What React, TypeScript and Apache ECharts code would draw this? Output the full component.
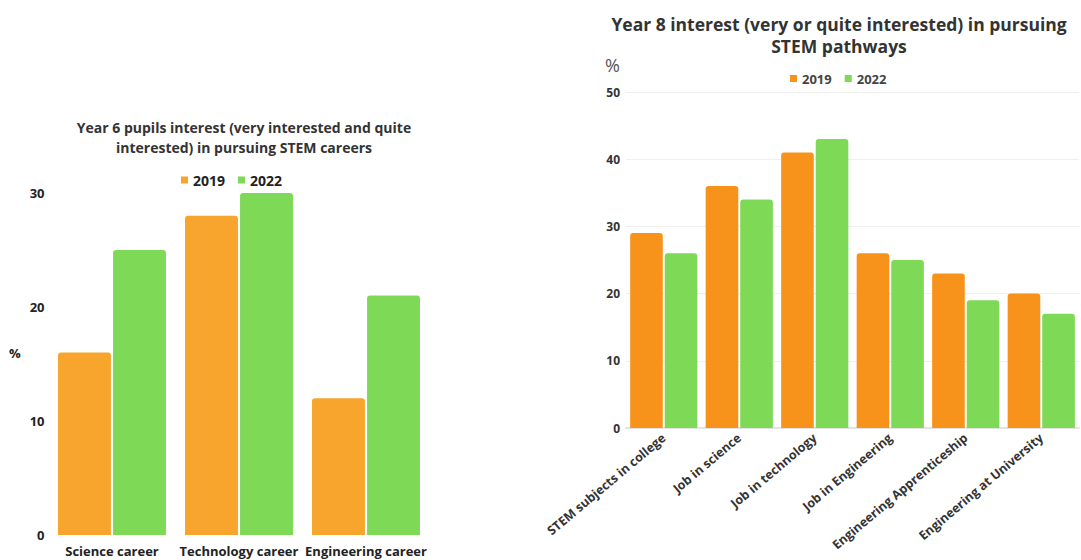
import React, { useEffect, useRef } from "react";
import * as echarts from "echarts";

const leftCategories = ["Science career", "Technology career", "Engineering career"];
const left2019 = [16, 28, 12];
const left2022 = [25, 30, 21];

const rightCategories = [
  "STEM subjects in college",
  "Job in science",
  "Job in technology",
  "Job in Engineering",
  "Engineering Apprenticeship",
  "Engineering at University",
];
const right2019 = [29, 36, 41, 26, 23, 20];
const right2022 = [26, 34, 43, 25, 19, 17];

const seriesNames = ["2019", "2022"];

const leftOrange = "#F7A52D";
const rightOrange = "#F7931A";
const green = "#7ED957";
const FONT = "Open Sans";

export default function App() {
  const ref = useRef<HTMLDivElement>(null);
  useEffect(() => {
    if (!ref.current) return;
    const chart = echarts.init(ref.current, null, { renderer: "svg" });
    const option: any = {
      animation: false,
      backgroundColor: "#ffffff",
      textStyle: { fontFamily: FONT },
      title: [
        {
          text: "Year 6 pupils interest (very interested and quite\ninterested) in pursuing STEM careers",
          left: 239,
          top: 112,
          textAlign: "center",
          textStyle: { fontFamily: FONT, fontSize: 14, fontWeight: "bold", color: "#333", lineHeight: 20 },
        },
        {
          text: "Year 8 interest (very or quite interested) in pursuing\nSTEM pathways",
          left: 834,
          top: 8,
          textAlign: "center",
          textStyle: { fontFamily: FONT, fontSize: 17.5, fontWeight: "bold", color: "#333", lineHeight: 22 },
        },
      ],
      legend: [
        {
          left: 176,
          top: 168,
          icon: "rect",
          itemWidth: 7,
          itemHeight: 7,
          itemGap: 13,
          textStyle: { fontFamily: FONT, fontSize: 14, fontWeight: "bold", color: "#222" },
          data: [
            { name: seriesNames[0], itemStyle: { color: leftOrange } },
            { name: seriesNames[1], itemStyle: { color: green } },
          ],
        },
        {
          left: 785,
          top: 67,
          icon: "rect",
          itemWidth: 7,
          itemHeight: 7,
          itemGap: 13,
          textStyle: { fontFamily: FONT, fontSize: 13, fontWeight: "bold", color: "#444" },
          data: [
            { name: seriesNames[0], itemStyle: { color: rightOrange } },
            { name: seriesNames[1], itemStyle: { color: green } },
          ],
        },
      ],
      grid: [
        { left: 48.5, width: 381, top: 193, height: 342, containLabel: false },
        { left: 626, width: 453, top: 92, height: 336, containLabel: false },
      ],
      xAxis: [
        {
          type: "category",
          gridIndex: 0,
          data: leftCategories,
          axisLine: { show: false },
          axisTick: { show: false },
          axisLabel: {
            margin: 9,
            fontFamily: FONT,
            fontSize: 13,
            fontWeight: "bold",
            color: "#222",
            interval: 0,
          },
        },
        {
          type: "category",
          gridIndex: 1,
          data: rightCategories,
          axisLine: { show: true, lineStyle: { color: "#e3e3e3", width: 2 } },
          axisTick: { show: false },
          axisLabel: {
            margin: 8,
            rotate: 40,
            fontFamily: FONT,
            fontSize: 12.5,
            fontWeight: "bold",
            color: "#333",
            interval: 0,
          },
        },
      ],
      yAxis: [
        {
          type: "value",
          gridIndex: 0,
          min: 0,
          max: 30,
          interval: 10,
          axisLine: { show: false },
          axisTick: { show: false },
          splitLine: { show: false },
          axisLabel: { margin: 4, fontFamily: FONT, fontSize: 13, fontWeight: "bold", color: "#222" },
        },
        {
          type: "value",
          gridIndex: 1,
          min: 0,
          max: 50,
          interval: 10,
          axisLine: { show: false },
          axisTick: { show: false },
          splitLine: { show: true, lineStyle: { color: "#efefef", width: 1 } },
          axisLabel: { margin: 6, fontFamily: FONT, fontSize: 12, fontWeight: "bold", color: "#333" },
        },
      ],
      graphic: [
        {
          type: "text",
          left: 9,
          top: 346,
          style: { text: "%", font: `bold 13px ${FONT}`, fill: "#222" },
        },
        {
          type: "text",
          left: 605,
          top: 56,
          style: { text: "%", font: `18px ${FONT}`, fill: "#555" },
        },
      ],
      series: [
        {
          name: seriesNames[0],
          type: "bar",
          xAxisIndex: 0,
          yAxisIndex: 0,
          data: left2019,
          barGap: "4%",
          barCategoryGap: "15%",
          itemStyle: { color: leftOrange, borderRadius: [3, 3, 0, 0] },
        },
        {
          name: seriesNames[1],
          type: "bar",
          xAxisIndex: 0,
          yAxisIndex: 0,
          data: left2022,
          barGap: "4%",
          barCategoryGap: "15%",
          itemStyle: { color: green, borderRadius: [3, 3, 0, 0] },
        },
        {
          name: seriesNames[0],
          type: "bar",
          xAxisIndex: 1,
          yAxisIndex: 1,
          data: right2019,
          barGap: "6%",
          barCategoryGap: "11%",
          itemStyle: { color: rightOrange, borderRadius: [3, 3, 0, 0] },
        },
        {
          name: seriesNames[1],
          type: "bar",
          xAxisIndex: 1,
          yAxisIndex: 1,
          data: right2022,
          barGap: "6%",
          barCategoryGap: "11%",
          itemStyle: { color: green, borderRadius: [3, 3, 0, 0] },
        },
      ],
    };
    chart.setOption(option);
    return () => chart.dispose();
  }, []);
  return (
    <div
      ref={ref}
      style={{ position: "fixed", left: 0, top: 0, width: 1081, height: 560, background: "#fff" }}
    />
  );
}
